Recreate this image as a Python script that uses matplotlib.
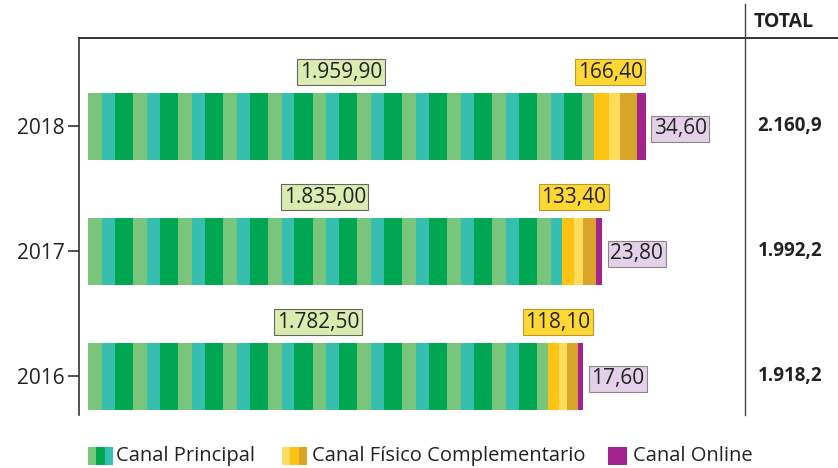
import matplotlib
matplotlib.use("Agg")
import matplotlib.pyplot as plt
from matplotlib.patches import Rectangle
from matplotlib.lines import Line2D

plt.rcParams["font.family"] = ["Open Sans", "DejaVu Sans"]

years = ["2016", "2017", "2018"]
principal = [1782.50, 1835.00, 1959.90]
fisico = [118.10, 133.40, 166.40]
online = [17.60, 23.80, 34.60]
totals = ["1.918,2", "1.992,2", "2.160,9"]
principal_labels = ["1.782,50", "1.835,00", "1.959,90"]
fisico_labels = ["118,10", "133,40", "166,40"]
online_labels = ["17,60", "23,80", "34,60"]

GREENS = ["#79c57c", "#36bfae", "#00a651"]
GREEN_W = [54, 50, 70]
YELLOWS = ["#fcc314", "#fddc5c", "#d9a42a"]
YELLOW_F = [0.35, 0.27, 0.38]
PURPLE = "#a5238f"
W, H = 838, 468

fig = plt.figure(figsize=(W / 100, H / 100), dpi=100)


def fx(px):
    return px / W


def fy(py):
    return 1 - py / H


ax = fig.add_axes([fx(79), fy(415), fx(745) - fx(79), fy(38) - fy(415)])
ax.set_xlim(-35, 2546)
ax.set_ylim(-0.312, 2.704)
bar_h = 0.536

for i, yr in enumerate(years):
    # striped principal channel
    left = 0.0
    k = 0
    while left < principal[i] - 1e-6:
        w = min(GREEN_W[k % 3], principal[i] - left)
        ax.barh(i, w, left=left, height=bar_h, color=GREENS[k % 3], linewidth=0)
        left += w
        k += 1
    # complementary channel in three yellow shades
    for c, f in zip(YELLOWS, YELLOW_F):
        w = fisico[i] * f
        ax.barh(i, w, left=left, height=bar_h, color=c, linewidth=0)
        left += w
    ax.barh(i, online[i], left=left, height=bar_h, color=PURPLE, linewidth=0)
    end = left + online[i]

    top = i + bar_h / 2
    ax.annotate(principal_labels[i], (principal[i] / 2, top), xytext=(0, 7),
                textcoords="offset points", ha="center", va="bottom",
                fontsize=15, color="#222222",
                bbox=dict(boxstyle="square,pad=0.12", fc="#dcebb0", ec="#666666", lw=0.8))
    ax.annotate(fisico_labels[i], (principal[i] + fisico[i] / 2 - 20, top), xytext=(0, 7),
                textcoords="offset points", ha="center", va="bottom",
                fontsize=15, color="#222222",
                bbox=dict(boxstyle="square,pad=0.12", fc="#fdd835", ec="#b89a30", lw=0.8))
    ax.annotate(online_labels[i], (end, i), xytext=(6, -2),
                textcoords="offset points", ha="left", va="center",
                fontsize=15, color="#222222",
                bbox=dict(boxstyle="square,pad=0.12", fc="#e4d0e8", ec="#888888", lw=0.8))
    # total on the right, outside the plot
    ax.annotate(totals[i], (1, i), xycoords=("axes fraction", "data"),
                xytext=(9, 0), textcoords="offset points", ha="left", va="center",
                fontsize=13.5, fontweight="bold", color="#222222", annotation_clip=False)

ax.set_yticks(range(len(years)))
ax.set_yticklabels(years, fontsize=15, color="#222222")
ax.tick_params(axis="y", length=8, width=1.2, color="#333333", pad=2)
ax.set_xticks([])
for s in ["top", "right", "bottom"]:
    ax.spines[s].set_visible(False)
ax.spines["left"].set_color("#333333")
ax.spines["left"].set_linewidth(1.2)

# frame lines
fig.add_artist(Line2D([fx(79), 1], [fy(38), fy(38)], color="#333333", lw=1.4))
fig.add_artist(Line2D([fx(745), fx(745)], [fy(4), fy(415)], color="#444444", lw=1.0))
fig.text(fx(754), fy(22), "TOTAL", fontsize=14, fontweight="bold", color="#222222", va="center")

# legend
ly0, ly1 = 447, 465


def icon(x0, colors, widths):
    x = x0
    for c, w in zip(colors, widths):
        fig.add_artist(Rectangle((fx(x), fy(ly1)), fx(w), fy(ly0) - fy(ly1),
                                 transform=fig.transFigure, color=c, lw=0))
        x += w


icon(88, [GREENS[0], GREENS[2], GREENS[1]], [8, 9, 8])
fig.text(fx(116), fy(456), "Canal Principal", fontsize=14.5, color="#222222", va="center")
icon(282, [YELLOWS[1], YELLOWS[0], YELLOWS[2]], [8, 9, 8])
fig.text(fx(312), fy(456), "Canal Físico Complementario", fontsize=14.5, color="#222222", va="center")
icon(608, [PURPLE], [19])
fig.text(fx(633), fy(456), "Canal Online", fontsize=14.5, color="#222222", va="center")

fig.savefig("out.png", dpi=100)
